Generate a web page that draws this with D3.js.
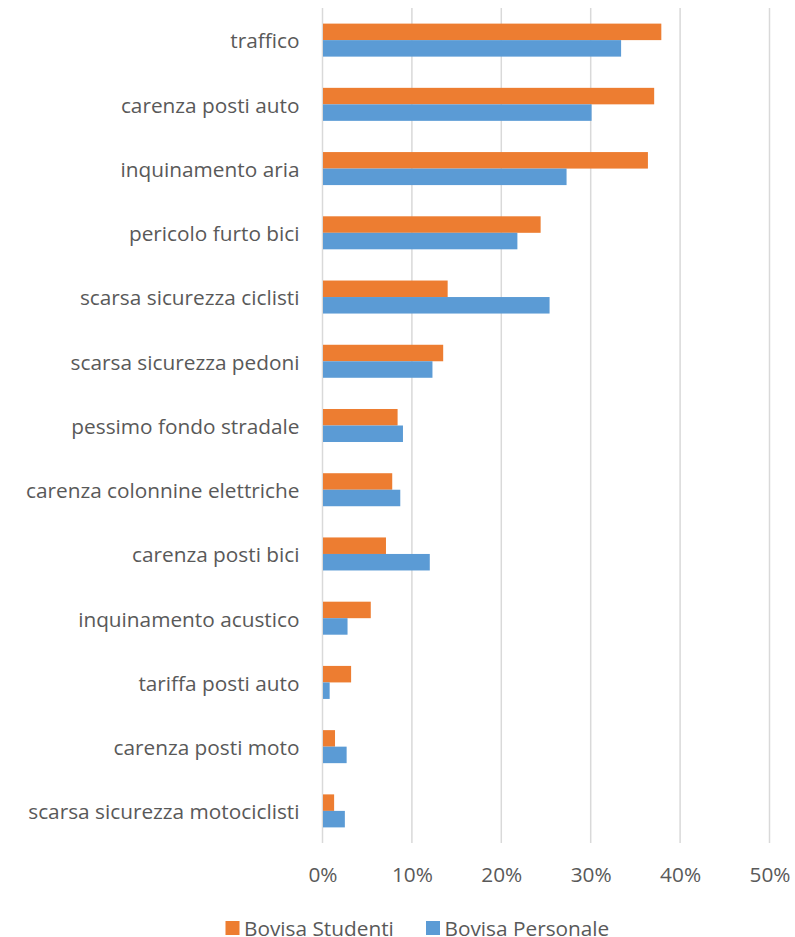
<!DOCTYPE html>
<html>
<head>
<meta charset="utf-8">
<script src="https://cdn.jsdelivr.net/npm/d3@7"></script>
<style>
  html, body { margin: 0; padding: 0; background: #fff; }
  svg { display: block; }
  text { font-family: "Open Sans", sans-serif; fill: #595959; }
</style>
</head>
<body>
<svg id="chart" width="795" height="937"></svg>
<script>
// Problem categories (top to bottom)
const categories = [
  "traffico",
  "carenza posti auto",
  "inquinamento aria",
  "pericolo furto bici",
  "scarsa sicurezza ciclisti",
  "scarsa sicurezza pedoni",
  "pessimo fondo stradale",
  "carenza colonnine elettriche",
  "carenza posti bici",
  "inquinamento acustico",
  "tariffa posti auto",
  "carenza posti moto",
  "scarsa sicurezza motociclisti"
];
const seriesNames = ["Bovisa Studenti", "Bovisa Personale"];
// Share of respondents, in %
const studenti = [37.9, 37.1, 36.4, 24.4, 14.0, 13.5, 8.4, 7.8, 7.1, 5.4, 3.2, 1.4, 1.3];
const personale = [33.4, 30.1, 27.3, 21.8, 25.4, 12.3, 9.0, 8.7, 12.0, 2.8, 0.8, 2.7, 2.5];
const xTicks = [0, 10, 20, 30, 40, 50];
const colors = ["#ED7D31", "#5B9BD5"];

const fontSize = 20.8;
const svg = d3.select("#chart");
const plot = { left: 322.5, right: 769.5, top: 8, bottom: 843 };

const x = d3.scaleLinear().domain([0, 50]).range([plot.left, plot.right]);
const y = d3.scaleBand().domain(categories).range([plot.top, plot.bottom]).padding(0);
const barH = y.bandwidth() * 0.257;

// Vertical gridlines
svg.append("g")
  .selectAll("line")
  .data(xTicks)
  .join("line")
  .attr("x1", d => x(d)).attr("x2", d => x(d))
  .attr("y1", plot.top).attr("y2", plot.bottom)
  .attr("stroke", "#D9D9D9")
  .attr("stroke-width", 1.5);

// Bars: orange above, blue below the category centre
const series = [studenti, personale];
series.forEach((vals, si) => {
  svg.append("g")
    .selectAll("rect")
    .data(categories)
    .join("rect")
    .attr("x", x(0) + 0.5)
    .attr("y", (c) => y(c) + y.bandwidth() / 2 - barH + si * barH)
    .attr("width", (c, i) => Math.max(0, x(vals[i]) - x(0) - 0.5))
    .attr("height", barH)
    .attr("fill", colors[si]);
});

// Category labels
const yAxis = d3.axisLeft(y).tickSize(0).tickPadding(23);
svg.append("g")
  .attr("transform", `translate(${plot.left},0)`)
  .call(yAxis)
  .call(g => g.select(".domain").remove())
  .call(g => g.selectAll("text")
    .attr("dy", "0.4em")
    .style("font-size", fontSize + "px")
    .style("font-family", "'Open Sans', sans-serif")
    .attr("fill", "#595959"));

// Percentage axis labels
const xAxis = d3.axisBottom(x).tickValues(xTicks).tickFormat(d => d + "%").tickSize(0).tickPadding(24);
svg.append("g")
  .attr("transform", `translate(0,${plot.bottom})`)
  .call(xAxis)
  .call(g => g.select(".domain").remove())
  .call(g => g.selectAll("text")
    .style("font-size", fontSize + "px")
    .style("font-family", "'Open Sans', sans-serif")
    .attr("fill", "#595959"));

// Legend
const legendX = [225.5, 426];
const legend = svg.append("g");
seriesNames.forEach((name, i) => {
  legend.append("rect")
    .attr("x", legendX[i]).attr("y", 921)
    .attr("width", 14).attr("height", 14)
    .attr("fill", colors[i]);
  legend.append("text")
    .attr("x", legendX[i] + 18.5).attr("y", 935.5)
    .style("font-size", fontSize + "px")
    .text(name);
});
</script>
</body>
</html>
